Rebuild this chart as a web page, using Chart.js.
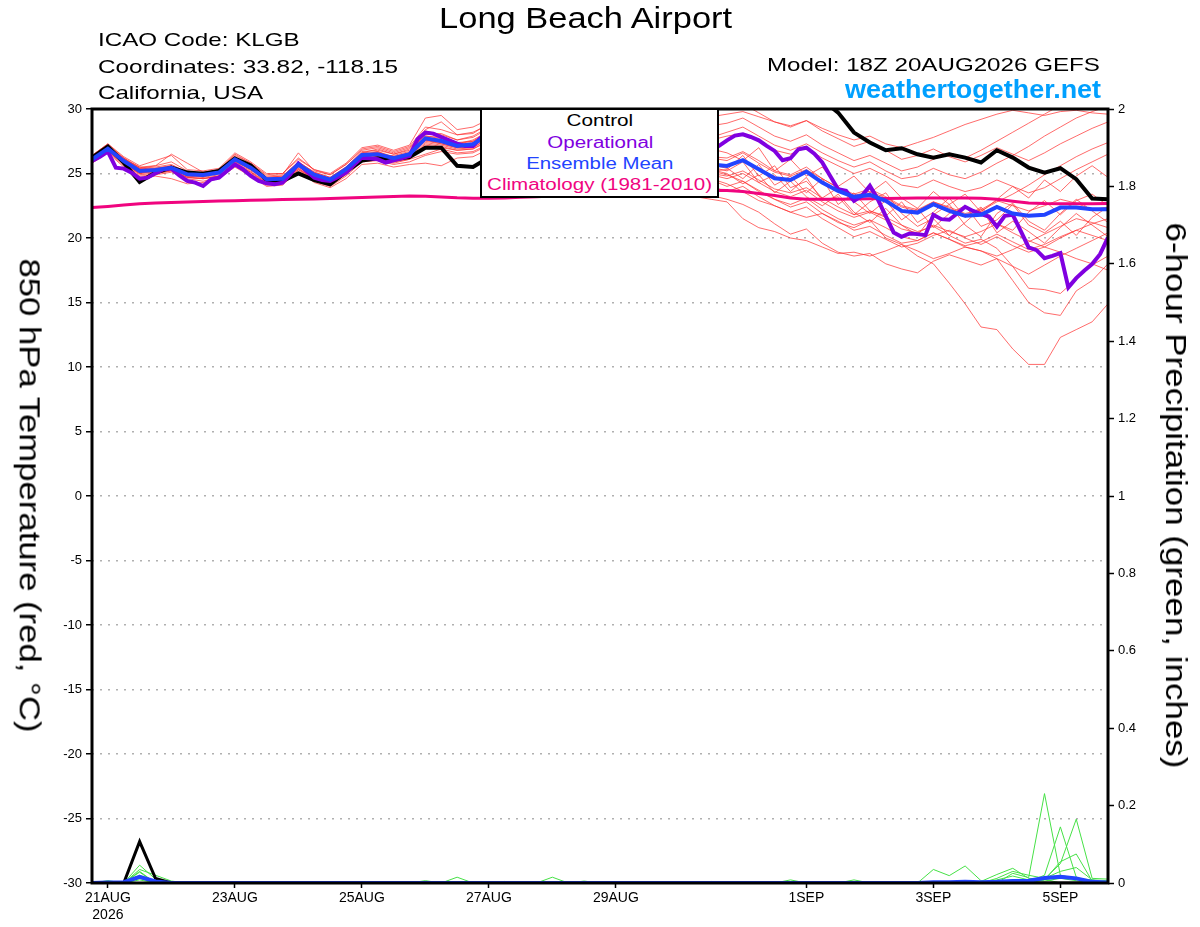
<!DOCTYPE html>
<html><head><meta charset="utf-8">
<script src="https://cdn.jsdelivr.net/npm/chart.js@4.4.1/dist/chart.umd.min.js"></script>
<style>
html,body{margin:0;padding:0;background:#fff;}
#wrap{position:relative;width:1200px;height:927px;overflow:hidden;font-family:"Liberation Sans",Arial,sans-serif;background:#fff;}
#c{position:absolute;left:0;top:0;}
.t{position:absolute;white-space:nowrap;line-height:1;}
#legbox{position:absolute;left:480px;top:110px;width:239px;height:88px;box-sizing:border-box;border:2px solid #000;border-top:none;background:#fff;}
</style></head><body>
<div id="wrap"><canvas id="c" width="1200" height="927"></canvas><div id="legbox"></div></div>
<script>
// ---- tick labels (time index: 6-hourly steps from 18Z 20AUG2026) ----
const xTickPos = [1, 9, 17, 25, 33, 45, 53, 61];
const xTickLabels = [['21AUG', '2026'], '23AUG', '25AUG', '27AUG', '29AUG', '1SEP', '3SEP', '5SEP'];

// ---- 850 hPa temperature (deg C), 6-hourly, 65 steps ----
const controlTemp = [26.23,27.08,25.84,24.34,25.07,25.45,25.07,24.99,25.2,26.15,25.63,24.5,24.42,25.0,24.48,24.17,25.15,26.0,26.18,26.1,26.28,27.0,27.0,25.6,25.5,26.23,
 26.8,27.3,27.9,28.4,28.2,28.8,29.3,29.1,29.6,30.3,30.8,31.2,31.5,31.9,
 32.1,32.3,32.0,31.7,31.4,31.1,30.7,29.72,28.17,27.4,26.8,26.96,26.49,26.23,26.49,26.23,25.85,26.8,26.23,25.46,25.07,25.41,24.56,23.06,23.0];
const meanTemp = [26.1,26.93,25.97,25.2,25.27,25.45,24.94,24.89,25.07,26.1,25.45,24.55,24.6,25.7,24.9,24.53,25.33,26.44,26.5,26.18,26.5,27.73,27.52,27.14,27.27,28.04,
 27.8,27.5,27.3,27.5,27.2,27.0,27.1,26.8,26.6,26.8,26.4,26.1,25.9,25.7,
 25.59,26.03,25.33,24.63,24.5,25.15,24.3,23.65,23.19,23.34,22.88,22.1,21.97,22.62,22.1,21.72,21.8,22.41,21.9,21.72,21.8,22.36,22.36,22.23,22.23];
const climTemp = [22.36,22.45,22.55,22.65,22.72,22.76,22.8,22.83,22.86,22.89,22.92,22.95,22.98,23.0,23.03,23.06,23.1,23.14,23.18,23.22,23.26,23.24,23.18,23.12,23.09,23.08,
 23.1,23.15,23.2,23.25,23.3,23.35,23.4,23.45,23.5,23.55,23.6,23.65,23.68,23.7,
 23.68,23.6,23.45,23.3,23.1,23.0,23.0,23.0,23.02,23.05,23.07,23.08,23.1,23.1,23.1,23.1,23.08,23.0,22.85,22.72,22.67,22.65,22.65,22.66,22.67];
// operational run, 3-hourly, 129 steps
const operTemp = [25.97,26.3,26.7,25.45,25.38,25.07,24.6,24.68,25.02,25.33,25.38,24.86,24.42,24.29,24.03,24.55,24.68,25.2,25.71,25.33,24.81,24.42,24.24,24.16,24.29,24.94,
 25.77,25.2,24.68,24.5,24.43,24.74,25.07,25.67,26.23,26.18,26.1,25.85,26.03,26.18,26.36,27.65,28.17,28.09,27.83,27.57,27.32,27.14,27.14,27.78,28.17,
 28.3,28.5,28.4,28.2,28.0,27.6,27.3,27.5,27.8,27.9,27.6,27.2,26.9,27.0,27.4,27.7,27.9,27.6,27.3,27.0,27.1,27.4,27.8,28.0,27.7,27.3,27.0,26.8,27.14,
 27.57,27.94,28.04,27.83,27.57,27.14,26.75,26.03,26.18,26.88,27.0,26.54,25.85,24.81,23.78,23.65,22.88,23.27,24.04,23.0,21.7,
 20.43,20.09,20.35,20.3,20.22,21.8,21.46,21.41,21.9,22.42,22.1,21.85,21.67,20.87,21.72,21.8,20.56,19.27,19.06,18.44,18.62,18.83,16.17,16.89,17.46,17.98,18.75,20.04];

// ensemble members (temperature)
const mem01 = [26.3,27.2,26.0,25.4,25.6,25.9,25.2,25.0,25.3,26.4,25.8,24.8,24.9,26.6,25.2,24.9,25.7,26.8,27.0,26.6,27.0,28.4,29.0,28.0,28.2,28.8, 29.0,28.7,28.5,28.9,29.3,29.0,28.6,28.9,29.2,29.5,29.1,28.8,29.0,29.4, 29.6,29.8,29.4,29.0,28.7,29.1,28.5,28.0,27.6,27.9,27.3,27.0,27.4,27.8,28.3,28.8,29.2,29.6,29.9,29.7,29.5,29.8,29.9,29.7,29.6];
const mem02 = [25.9,26.8,25.7,24.9,25.0,25.2,24.7,24.6,24.8,25.8,25.1,24.3,24.4,25.4,24.6,24.2,25.0,26.1,26.2,25.9,26.1,27.2,27.0,26.8,26.9,27.5, 27.2,27.0,26.6,26.9,26.5,26.2,26.4,26.0,25.8,26.1,25.6,25.3,25.0,24.6, 24.2,23.6,22.9,22.5,22.0,21.6,21.9,21.2,20.8,21.4,20.0,19.5,18.6,18.0,16.5,14.9,13.1,12.9,11.4,10.2,10.2,12.3,12.9,13.5,14.9];
const mem03 = [26.0,27.0,26.2,25.3,25.1,25.5,24.9,25.1,25.0,26.2,25.6,24.6,24.5,25.8,25.0,24.4,25.2,26.4,26.7,26.2,26.3,27.6,27.3,27.0,27.0,27.8, 27.5,27.1,27.3,27.0,26.6,26.8,26.3,26.0,26.2,25.7,25.4,25.0,24.8,24.5, 24.0,24.4,23.6,23.0,22.4,22.8,21.9,21.3,20.6,20.9,20.2,19.6,19.8,20.4,19.9,19.3,19.0,18.4,16.7,15.0,14.2,14.0,15.9,16.7,18.0];
const mem04 = [26.2,26.9,25.8,25.0,25.4,25.3,25.0,24.7,25.2,26.0,25.3,24.5,24.7,25.6,24.8,24.6,25.4,26.5,26.3,26.4,26.7,27.9,27.7,27.3,27.6,28.3, 28.0,27.6,27.8,27.3,27.0,27.4,26.9,26.5,26.7,26.2,25.9,25.5,25.2,25.0, 24.8,25.2,24.5,23.8,23.5,23.9,23.1,22.4,21.8,22.1,21.6,21.0,20.5,20.9,20.2,19.6,19.9,19.2,17.8,16.1,16.0,15.7,16.8,17.9,18.6];
const mem05 = [26.1,27.1,26.1,25.5,25.2,25.6,24.8,25.0,25.1,26.3,25.5,24.7,24.8,25.9,25.1,24.7,25.5,26.6,26.9,26.5,26.8,28.0,28.1,27.6,27.8,28.5, 28.6,28.4,28.0,28.3,28.7,28.2,27.9,28.1,28.4,28.0,27.7,27.9,27.6,27.8, 28.2,28.6,27.9,27.2,26.8,27.3,26.6,26.0,25.5,25.9,25.2,24.6,24.8,25.4,24.9,24.6,25.1,25.8,26.4,27.1,27.9,28.6,29.3,29.8,30.2];
const mem06 = [25.8,26.7,25.6,24.8,24.9,25.1,24.6,24.4,24.7,25.6,24.9,24.1,24.2,25.3,24.4,24.0,24.8,25.9,26.0,25.7,25.9,26.4,26.7,26.5,26.6,27.2, 26.8,26.4,26.7,26.3,25.9,26.2,25.7,25.4,25.6,25.1,24.8,24.5,24.2,24.0, 23.6,24.0,23.2,22.5,22.0,22.4,21.5,20.8,20.1,20.5,19.9,19.3,19.6,20.2,20.6,20.0,19.5,20.1,19.4,18.9,19.3,20.0,20.6,21.1,21.5];
const mem07 = [26.4,27.3,26.3,25.6,26.0,26.4,25.3,25.2,25.4,26.6,25.9,25.0,25.0,26.2,25.3,25.0,25.8,27.0,27.2,26.8,27.2,29.3,29.5,28.4,28.6,29.2, 29.4,29.0,28.8,29.3,29.6,29.2,29.5,29.8,30.2,30.5,30.3,30.0,29.6,29.9, 30.2,30.4,29.7,29.0,28.6,29.1,28.3,27.7,27.1,27.5,26.8,26.1,26.4,26.9,26.3,25.9,26.4,27.0,26.5,26.0,26.6,27.3,27.9,28.5,29.0];
const mem08 = [26.0,26.9,25.9,25.1,25.3,25.4,25.0,24.9,25.0,25.9,25.4,24.6,24.6,25.6,24.9,24.5,25.3,26.4,26.5,26.1,26.5,27.6,27.4,27.1,27.2,28.0, 27.7,27.4,27.1,27.5,27.2,26.8,27.1,26.7,26.4,26.7,26.2,25.9,25.6,25.3, 25.0,24.2,24.9,23.5,24.4,23.2,22.5,23.4,22.0,21.2,22.3,21.0,20.2,21.8,22.6,21.0,20.1,21.9,22.7,21.3,20.6,21.9,23.0,22.1,21.2];
const mem09 = [26.2,27.0,26.1,25.2,25.3,25.5,24.9,24.8,25.1,26.1,25.4,24.5,24.6,25.7,24.9,24.5,25.3,26.5,26.6,26.2,26.6,27.8,27.6,27.2,27.4,28.1, 27.9,28.2,27.8,27.5,27.9,27.5,27.2,27.5,27.1,26.8,27.1,26.7,26.4,26.2, 26.0,26.6,25.8,25.1,24.8,25.3,24.6,23.9,23.3,23.6,23.1,22.4,22.1,22.8,22.4,21.9,22.2,22.9,22.5,22.1,22.5,23.0,22.7,22.2,22.4];
const mem10 = [25.9,26.8,25.8,25.0,25.2,25.3,24.8,24.7,24.9,25.9,25.2,24.3,24.4,25.5,24.7,24.3,25.1,26.2,26.3,26.0,26.3,27.4,27.2,26.9,27.0,27.7, 27.4,27.0,27.3,26.9,26.5,26.9,26.4,26.1,26.4,25.9,25.6,25.9,25.5,25.2, 25.3,26.4,24.8,25.6,23.9,24.4,23.1,23.9,22.8,21.9,22.9,21.4,22.3,20.8,21.9,22.5,20.9,21.4,22.6,21.0,20.4,21.3,20.2,21.6,22.4];
const mem11 = [25.8,26.6,25.5,24.7,24.8,24.6,24.2,24.3,24.6,25.5,24.8,24.0,24.1,25.2,24.3,23.9,24.6,25.7,25.8,25.5,25.7,25.8,25.6,26.2,26.3,26.9, 26.5,26.2,25.9,26.2,25.8,25.5,25.1,24.8,24.5,24.2,23.8,23.5,23.2,23.0, 22.8,21.5,20.8,20.5,20.0,19.8,19.3,18.8,18.9,18.6,19.0,19.5,19.0,18.4,18.8,19.3,19.0,18.6,19.1,19.7,20.3,20.9,21.5,21.2,20.8];
const mem12 = [26.3,27.1,26.2,25.4,25.5,25.7,25.1,25.1,25.2,26.3,25.6,24.7,24.8,25.9,25.1,24.7,25.5,26.7,26.8,26.5,26.9,28.3,28.0,27.6,27.9,28.6, 28.4,28.0,28.3,28.6,28.2,27.9,28.2,27.8,27.5,27.8,27.3,27.0,27.3,26.9, 26.6,26.0,27.0,25.2,26.1,24.8,25.5,24.0,24.8,23.5,24.4,23.1,22.3,23.6,22.6,23.4,22.0,23.0,24.0,23.1,24.5,23.6,24.8,25.6,24.7];
const mem13 = [26.1,26.9,25.9,25.3,25.2,25.4,24.9,24.9,25.0,26.0,25.3,24.5,24.5,25.6,24.8,24.4,25.2,26.3,26.4,26.1,26.4,27.5,27.3,27.0,27.1,27.9, 27.6,27.3,27.6,27.2,26.9,27.2,26.8,26.5,26.2,26.5,26.1,25.8,25.5,25.7, 25.4,24.6,25.7,24.1,24.8,23.5,24.6,22.6,23.5,22.1,21.7,22.8,21.2,22.0,23.1,21.6,22.4,21.1,20.6,22.0,22.9,21.8,22.9,23.4,22.5];
const mem14 = [26.0,26.8,25.7,25.0,25.1,25.3,24.7,24.6,24.8,25.8,25.1,24.2,24.3,25.4,24.5,24.1,24.9,26.0,26.1,25.8,26.1,26.5,26.9,26.6,26.7,27.3, 27.0,26.6,26.2,26.5,26.1,25.7,25.9,25.4,25.0,24.7,24.3,24.0,23.6,23.3, 23.0,22.6,22.0,21.1,20.3,20.7,19.6,18.9,18.6,18.8,18.0,17.6,17.3,18.2,18.7,18.3,17.9,18.4,17.8,17.2,17.9,18.6,19.2,19.8,20.4];
const mem15 = [26.2,27.2,26.1,25.4,25.4,25.6,25.1,24.9,25.2,26.2,25.6,24.6,24.7,25.8,25.0,24.6,25.4,26.6,26.7,26.3,26.6,28.1,27.9,27.4,27.5,28.2, 28.0,27.7,28.1,27.8,27.4,27.8,27.5,27.2,27.6,27.3,26.9,27.2,27.4,27.6, 27.9,28.1,27.5,26.8,26.5,27.0,26.2,25.6,25.0,25.4,24.8,24.1,23.9,24.5,24.0,23.6,23.9,24.5,24.0,23.5,23.9,24.6,25.3,25.9,26.5];
const mem16 = [25.9,26.7,25.8,25.1,25.0,25.2,24.7,24.6,24.8,25.7,25.0,24.2,24.3,25.3,24.6,24.2,25.0,26.1,26.2,25.9,26.2,27.3,27.1,26.8,26.9,27.6, 27.3,27.6,27.2,26.8,27.1,26.7,26.3,26.6,26.2,25.8,26.0,25.6,25.2,24.9, 24.6,25.0,24.3,23.6,23.2,23.7,22.8,22.1,21.6,22.0,21.4,20.7,20.4,21.0,20.5,20.1,20.5,21.1,20.4,19.8,19.3,18.9,18.4,18.0,17.5];
const mem17 = [26.3,27.0,26.0,25.2,25.4,25.6,25.0,25.0,25.2,26.2,25.5,24.6,24.7,25.8,25.0,24.6,25.4,26.5,26.6,26.3,26.6,27.9,27.8,27.3,27.5,28.3, 28.1,27.8,27.5,27.9,27.6,27.2,27.5,27.1,26.8,27.2,26.8,26.4,26.6,26.3, 26.2,26.7,26.0,25.2,24.9,25.5,24.6,23.9,23.4,23.8,23.2,22.5,22.2,22.8,22.3,21.8,22.1,22.8,23.4,24.1,24.9,25.6,26.3,26.9,27.4];
const mem18 = [26.0,26.9,25.9,25.1,25.2,25.4,24.8,24.8,25.0,26.0,25.3,24.4,24.5,25.6,24.8,24.4,25.2,26.3,26.4,26.1,26.4,27.6,27.4,27.0,27.2,27.9, 27.6,27.3,27.0,27.3,26.9,26.6,26.9,26.5,26.2,26.5,26.0,25.7,25.9,25.5, 25.2,25.9,24.3,24.9,23.6,24.7,22.9,23.2,21.8,22.8,23.5,21.9,20.9,21.5,20.2,21.2,22.3,20.4,21.3,20.5,19.6,20.8,21.9,21.0,20.1];
const mem19 = [26.4,27.3,26.2,25.5,25.6,26.5,25.8,25.1,25.3,26.5,25.8,24.9,25.0,26.1,25.3,24.9,25.7,26.9,27.1,26.7,27.1,28.6,28.4,28.0,28.1,28.9, 28.8,28.5,28.8,29.2,28.8,28.5,28.9,29.3,29.0,28.7,29.1,28.8,28.4,28.7, 28.9,29.3,28.6,27.9,27.5,28.0,27.2,26.6,26.0,26.4,25.8,25.2,25.5,26.1,26.6,26.2,26.8,27.5,28.2,28.9,29.6,30.3,30.8,30.5,30.1];
const mem20 = [26.1,27.0,26.0,25.3,25.3,25.5,24.9,24.8,25.1,26.1,25.4,24.5,24.6,25.7,24.9,24.5,25.3,26.4,26.5,26.2,26.5,27.7,27.5,27.1,27.3,28.0, 27.8,27.5,27.2,27.5,27.1,26.8,27.1,26.7,26.4,26.7,26.2,25.9,25.6,25.2, 24.9,24.4,23.7,23.0,22.6,23.1,22.2,21.5,21.0,21.4,20.8,20.1,19.8,20.4,19.9,19.4,19.7,20.3,19.7,19.1,19.5,20.1,20.6,20.2,19.8];

// ---- 6-hour precipitation (inches), 65 steps ----
const controlPrecip = [0,0,0,0.107,0.012, 0,0,0,0,0, 0,0,0,0,0, 0,0,0,0,0, 0,0,0,0,0, 0,0,0,0,0, 0,0,0,0,0, 0,0,0,0,0, 0,0,0,0,0, 0,0,0,0,0, 0,0,0,0,0, 0,0,0,0,0, 0,0,0,0,0];
const meanPrecip = [0,0.001,0.002,0.016,0.004, 0,0,0,0,0, 0,0,0,0,0, 0,0,0,0,0, 0,0,0,0,0, 0,0,0,0,0, 0,0,0,0,0, 0,0,0,0,0, 0,0,0,0,0, 0,0,0,0,0, 0,0,0,0.002,0.002, 0.003,0.002,0.003,0.005,0.006, 0.013,0.016,0.012,0.003,0.001];
const memP1 = [0,0,0,0.046,0.01, 0,0,0,0,0, 0,0,0,0,0, 0,0,0,0,0, 0,0.006,0,0,0, 0,0,0,0,0, 0,0,0,0,0, 0,0,0,0,0, 0,0,0,0,0, 0,0,0,0,0, 0,0,0,0.035,0.019, 0.044,0.006,0,0,0, 0,0,0,0,0];
const memP2 = [0,0,0,0.035,0.02, 0.005,0,0,0,0, 0,0,0,0,0, 0,0,0,0,0, 0,0,0,0.015,0, 0,0,0,0,0, 0,0,0,0,0, 0,0,0,0,0, 0,0,0,0,0, 0,0,0,0,0, 0,0,0,0,0, 0,0.004,0.022,0.038,0.012, 0.01,0,0,0,0];
const memP3 = [0,0,0,0.028,0, 0,0,0,0,0, 0,0,0,0,0, 0,0,0,0,0, 0,0,0,0,0, 0,0,0,0,0.015, 0,0,0,0,0, 0,0,0,0,0, 0,0,0,0,0, 0,0,0,0,0, 0,0,0,0,0, 0,0,0,0.025,0.014, 0.231,0.02,0.012,0.008,0.006];
const memP4 = [0,0,0,0.02,0, 0,0,0,0,0, 0,0,0,0,0, 0,0,0,0,0, 0,0,0,0,0, 0,0,0,0,0, 0,0,0,0,0, 0,0,0,0,0.004, 0,0,0,0,0, 0,0,0,0,0, 0,0,0,0,0, 0,0,0,0,0.004, 0.02,0.145,0.015,0,0];
const memP5 = [0,0,0,0.012,0, 0,0,0,0,0, 0,0,0,0,0, 0,0,0,0,0, 0,0,0,0,0, 0,0,0,0,0, 0,0,0,0,0, 0,0,0,0,0, 0,0,0,0,0.008, 0,0,0,0,0, 0,0,0,0,0, 0,0,0,0,0, 0.01,0.05,0.165,0.012,0.01];
const memP6 = [0,0,0,0.008,0, 0,0,0,0,0, 0,0,0,0,0, 0,0,0,0,0, 0,0,0,0,0, 0,0,0,0,0, 0,0,0,0,0, 0,0,0,0,0, 0,0,0,0,0, 0,0,0,0.008,0, 0,0,0,0,0, 0,0,0,0,0, 0.008,0.055,0.075,0.005,0];
const memP7 = [0,0.006,0,0,0, 0,0,0,0,0, 0,0,0,0,0, 0,0,0,0,0, 0,0,0,0,0, 0,0,0,0,0, 0,0.005,0,0,0, 0,0,0,0,0, 0,0,0,0,0, 0,0,0,0,0, 0,0,0,0,0, 0,0,0.012,0.03,0.02, 0.012,0.03,0.04,0.008,0];
const memP8 = [0,0,0,0.03,0, 0,0,0,0,0, 0,0,0,0,0, 0,0,0,0,0, 0,0,0,0,0, 0,0.004,0,0,0, 0,0,0,0,0, 0,0,0,0,0, 0,0,0,0,0, 0,0,0,0,0, 0,0,0,0,0, 0.004,0.003,0.008,0.018,0.008, 0.005,0.012,0.006,0,0];

// ---- texts ----
const titleText = 'Long Beach Airport';
const infoLines = ['ICAO Code: KLGB', 'Coordinates: 33.82, -118.15', 'California, USA'];
const modelText = 'Model: 18Z 20AUG2026 GEFS';
const siteText = 'weathertogether.net';
const legendItems = ['Control', 'Operational', 'Ensemble Mean', 'Climatology (1981-2010)'];
const leftTitle = '850 hPa Temperature (red, \u00B0C)';
const rightTitle = '6-hour Precipitation (green, inches)';

// ---- styling ----
const C_CTRL = '#000000', C_OPER = '#8000e0', C_MEAN = '#2244ff', C_CLIM = '#f0047f';
const C_RED = 'rgba(255,50,50,0.72)', C_GREEN = 'rgb(70,225,70)';

Chart.defaults.font.family = '"Liberation Sans", Arial, sans-serif';
Chart.defaults.color = '#000';

const xy = (arr, step) => arr.map((v, i) => ({x: i * step, y: v}));

const datasets = [];
const tempMembers = [mem01,mem02,mem03,mem04,mem05,mem06,mem07,mem08,mem09,mem10,mem11,mem12,mem13,mem14,mem15,mem16,mem17,mem18,mem19,mem20];
tempMembers.forEach(m => datasets.push({data: xy(m, 1), yAxisID: 'y', borderColor: C_RED, borderWidth: 1, order: 6, clip: 0}));
[memP1,memP2,memP3,memP4,memP5,memP6,memP7,memP8].forEach(m => datasets.push({data: xy(m, 1), yAxisID: 'y2', borderColor: C_GREEN, borderWidth: 1, order: 5}));
datasets.push({data: xy(climTemp, 1), yAxisID: 'y', borderColor: C_CLIM, borderWidth: 3, order: 4, clip: 0});
datasets.push({data: xy(controlTemp, 1), yAxisID: 'y', borderColor: C_CTRL, borderWidth: 4, order: 3, clip: 0});
datasets.push({data: xy(controlPrecip, 1), yAxisID: 'y2', borderColor: C_CTRL, borderWidth: 3, order: 3});
datasets.push({data: xy(operTemp, 0.5), yAxisID: 'y', borderColor: C_OPER, borderWidth: 4, order: 2, clip: 0});
datasets.push({data: xy(meanTemp, 1), yAxisID: 'y', borderColor: C_MEAN, borderWidth: 4, order: 1, clip: 0});
datasets.push({data: xy(meanPrecip, 1), yAxisID: 'y2', borderColor: C_MEAN, borderWidth: 4, order: 1});

const framePlugin = {
  id: 'frame',
  afterDatasetsDraw(chart) {
    const {ctx, chartArea: a} = chart;
    ctx.save();
    ctx.strokeStyle = '#000';
    ctx.lineWidth = 3;
    ctx.strokeRect(a.left, a.top, a.right - a.left, a.bottom - a.top);
    ctx.restore();
  }
};

new Chart(document.getElementById('c'), {
  type: 'line',
  data: {datasets},
  options: {
    responsive: false,
    animation: false,
    layout: {padding: {top: 109, left: 0, right: 0, bottom: 0}},
    plugins: {legend: {display: false}, tooltip: {enabled: false}},
    elements: {point: {radius: 0}, line: {tension: 0, fill: false}},
    scales: {
      x: {
        type: 'linear', min: 0, max: 64,
        afterFit(s) { s.height = 44; },
        afterBuildTicks(s) { s.ticks = xTickPos.map(v => ({value: v})); },
        ticks: {autoSkip: false, maxRotation: 0, padding: 2, font: {size: 14}, color: '#000',
                callback: (v, i) => xTickLabels[i]},
        grid: {drawOnChartArea: false, drawTicks: true, tickLength: 5, tickColor: '#000', tickWidth: 1.5},
        border: {display: false}
      },
      y: {
        position: 'left', min: -30, max: 30,
        afterFit(s) { s.width = 92; },
        ticks: {stepSize: 5, autoSkip: false, padding: 4, font: {size: 13}, color: '#000'},
        grid: {color: '#b0b0b0', lineWidth: 1.5, tickColor: '#000', tickLength: 6, tickWidth: 1.5, tickBorderDash: []},
        border: {display: false, dash: [2, 6]}
      },
      y2: {
        position: 'right', min: 0, max: 2,
        afterFit(s) { s.width = 92; },
        ticks: {stepSize: 0.2, autoSkip: false, padding: 4, font: {size: 13}, color: '#000',
                callback: v => String(Math.round(v * 10) / 10)},
        grid: {drawOnChartArea: false, tickColor: '#000', tickLength: 6, tickWidth: 1.5},
        border: {display: false}
      }
    }
  },
  plugins: [framePlugin]
});

// ---- text overlays ----
const wrap = document.getElementById('wrap');
function place(txt, o) {
  const d = document.createElement('div');
  d.className = 't';
  d.textContent = txt;
  d.style.fontSize = o.size + 'px';
  d.style.color = o.color || '#000';
  if (o.bold) d.style.fontWeight = 'bold';
  wrap.appendChild(d);
  const w = d.getBoundingClientRect().width;
  const s = o.width ? o.width / w : 1;
  if (o.rotate) {
    d.style.left = (o.x - w / 2) + 'px';
    d.style.top = (o.y - o.size / 2) + 'px';
    d.style.transformOrigin = '50% 50%';
    d.style.transform = 'rotate(90deg) scaleX(' + s + ')';
  } else {
    d.style.top = (o.base - 0.8465 * o.size) + 'px';
    let left = o.x, origin = 'left';
    if (o.align === 'center') { left = o.x - w / 2; origin = 'center'; }
    else if (o.align === 'right') { left = o.x - w; origin = 'right'; }
    d.style.left = left + 'px';
    d.style.transformOrigin = origin + ' 50%';
    d.style.transform = 'scaleX(' + s + ')';
  }
}
place(titleText, {x: 585.5, base: 28.3, size: 30, width: 293, align: 'center'});
place(infoLines[0], {x: 98.3, base: 45.7, size: 19, width: 201.7});
place(infoLines[1], {x: 98.3, base: 72.7, size: 19, width: 300});
place(infoLines[2], {x: 98.3, base: 99.3, size: 19, width: 165});
place(modelText, {x: 1100, base: 70.7, size: 19, width: 333, align: 'right'});
place(siteText, {x: 1101, base: 97.7, size: 26, width: 256, align: 'right', bold: true, color: '#00a0ff'});
const legColors = [C_CTRL, C_OPER, C_MEAN, C_CLIM];
const legBase = [126.7, 148.3, 169.3, 190.7];
const legWidth = [66.7, 106, 147.3, 225];
legendItems.forEach((t, i) => place(t, {x: 600, base: legBase[i], size: 16, width: legWidth[i], align: 'center', color: legColors[i]}));
place(leftTitle, {x: 29, y: 495, size: 29, width: 474, rotate: true});
place(rightTitle, {x: 1175, y: 495, size: 29, width: 546, rotate: true});
</script>
</body></html>
